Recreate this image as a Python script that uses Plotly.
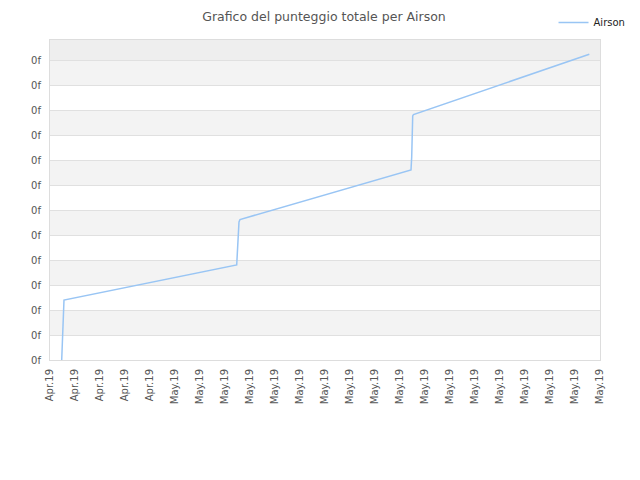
import plotly.graph_objects as go

# ---------------------------------------
# Data
# ---------------------------------------
times = [
    "2019-04-26 11:14", "2019-04-26 11:48", "2019-04-26 12:29", "2019-04-26 13:26",
    "2019-05-03 11:14", "2019-05-03 11:48", "2019-05-03 12:58", "2019-05-03 13:26",
    "2019-05-03 14:24", "2019-05-10 10:34", "2019-05-10 11:14", "2019-05-10 11:31",
    "2019-05-10 12:12", "2019-05-10 12:58", "2019-05-17 13:44",
]
scores = [0, 8, 18, 24, 38, 42.8, 50.4, 55.2, 56.2, 76, 81.2, 92, 97.6, 98.2, 122.3]

tick_dates = [
    "2019-04-26", "2019-04-27", "2019-04-28", "2019-04-29", "2019-04-30",
    "2019-05-01", "2019-05-02", "2019-05-03", "2019-05-04", "2019-05-05",
    "2019-05-06", "2019-05-07", "2019-05-08", "2019-05-09", "2019-05-10",
    "2019-05-11", "2019-05-12", "2019-05-13", "2019-05-14", "2019-05-15",
    "2019-05-16", "2019-05-17", "2019-05-18",
]
tick_labels = ["Apr.19"] * 5 + ["May.19"] * 18

y_ticks = list(range(0, 130, 10))
y_labels = ["0f"] * len(y_ticks)
y_max = 128

# ---------------------------------------
# Figure
# ---------------------------------------
fig = go.Figure()

fig.add_trace(go.Scatter(
    x=times, y=scores, mode="lines", name="Airson",
    line=dict(color="#99c5f4", width=1.5),
))

# alternating background bands
shapes = []
for i in range(1, len(y_ticks) - 1, 2):
    shapes.append(dict(type="rect", xref="paper", yref="y", x0=0, x1=1,
                       y0=y_ticks[i], y1=y_ticks[i + 1],
                       fillcolor="#f3f3f3", line_width=0, layer="below"))
shapes.append(dict(type="rect", xref="paper", yref="y", x0=0, x1=1,
                   y0=y_ticks[-1], y1=y_max,
                   fillcolor="#eeeeee", line_width=0, layer="below"))

# the page body adds an 8px offset, so the figure is sized to 632x472
fig.update_layout(
    width=632, height=472,
    margin=dict(l=42, r=40, t=32, b=120, autoexpand=False),
    paper_bgcolor="white", plot_bgcolor="white",
    font=dict(family="DejaVu Sans", size=10, color="#555555"),
    title=dict(text="Grafico del punteggio totale per Airson", x=0.5, xanchor="center",
               xref="container", y=0.99, yanchor="top",
               font=dict(size=12.5, color="#555555")),
    showlegend=True,
    legend=dict(xref="container", yref="container", x=0.985, xanchor="right",
                y=1.0, yanchor="top",
                font=dict(size=10, color="#222222"), itemwidth=30,
                bgcolor="rgba(0,0,0,0)"),
    shapes=shapes,
)

fig.update_xaxes(
    range=[tick_dates[0], tick_dates[-1]],
    tickmode="array", tickvals=tick_dates, ticktext=tick_labels,
    tickangle=-90, showgrid=False, zeroline=False, automargin=False,
    showline=True, mirror=True, linecolor="#dddddd", linewidth=1,
    ticks="", ticklabelstandoff=4,
)
fig.update_yaxes(
    range=[0, y_max],
    tickmode="array", tickvals=y_ticks, ticktext=y_labels,
    showgrid=True, gridcolor="#e0e0e0", gridwidth=1, zeroline=False, automargin=False,
    showline=True, mirror=True, linecolor="#dddddd", linewidth=1,
    ticks="", ticklabelstandoff=6,
)

fig.write_html("out.html")
